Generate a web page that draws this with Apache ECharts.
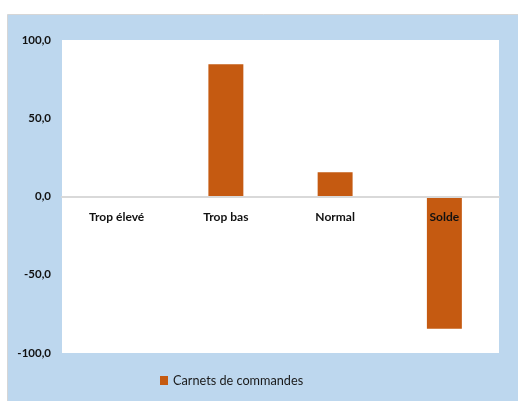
<!DOCTYPE html>
<html>
<head>
<meta charset="utf-8">
<script src="https://cdn.jsdelivr.net/npm/echarts@6/dist/echarts.min.js"></script>
<style>
  html, body { margin: 0; padding: 0; background: #fff; }
  #main { width: 518px; height: 401px; }
</style>
</head>
<body>
<div id="main"></div>
<script>
// données
const categories = ['Trop élevé', 'Trop bas', 'Normal', 'Solde'];
const carnets = [0, 84.5, 15.5, -84.5];
const seriesName = 'Carnets de commandes';

const font = 'Lato, "Open Sans", sans-serif';
const fmt = (v) => v.toFixed(1).replace('.', ',');

const myChart = echarts.init(document.getElementById('main'));

const option = {
  animation: false,
  backgroundColor: '#fff',
  graphic: [
    {
      type: 'rect',
      z: -10,
      shape: { x: 7.5, y: 14.5, width: 520, height: 400 },
      style: { fill: '#bdd7ee', stroke: '#d6d6d6', lineWidth: 1 }
    }
  ],
  grid: {
    left: 62,
    right: 19,
    top: 40,
    bottom: 48,
    show: true,
    backgroundColor: '#fff',
    borderWidth: 0
  },
  legend: {
    bottom: 9,
    left: 155,
    itemWidth: 8,
    itemHeight: 9,
    itemGap: 4,
    icon: 'rect',
    textStyle: { fontFamily: font, fontSize: 12.7, color: '#1a1a1a' },
    data: [seriesName]
  },
  xAxis: {
    type: 'category',
    data: categories,
    z: 10, // libellés au-dessus des barres (Solde)
    // axe placé sur la ligne du zéro (milieu de la zone de tracé)
    offset: -156.5,
    axisLine: { onZero: false, lineStyle: { color: '#d9d9d9', width: 2 } },
    axisTick: { show: false },
    axisLabel: {
      margin: 15,
      fontFamily: font,
      fontWeight: 'bold',
      fontSize: 12,
      color: '#111'
    },
    splitLine: { show: false }
  },
  yAxis: {
    type: 'value',
    min: -100,
    max: 100,
    interval: 50,
    axisLine: { show: false },
    axisTick: { show: false },
    splitLine: { show: false },
    axisLabel: {
      margin: 11,
      fontFamily: font,
      fontWeight: 'bold',
      fontSize: 11.5,
      color: '#111',
      formatter: fmt
    }
  },
  series: [
    {
      name: seriesName,
      type: 'bar',
      barWidth: '32%',
      itemStyle: { color: '#c55a11' },
      data: carnets
    }
  ]
};

myChart.setOption(option);
</script>
</body>
</html>
